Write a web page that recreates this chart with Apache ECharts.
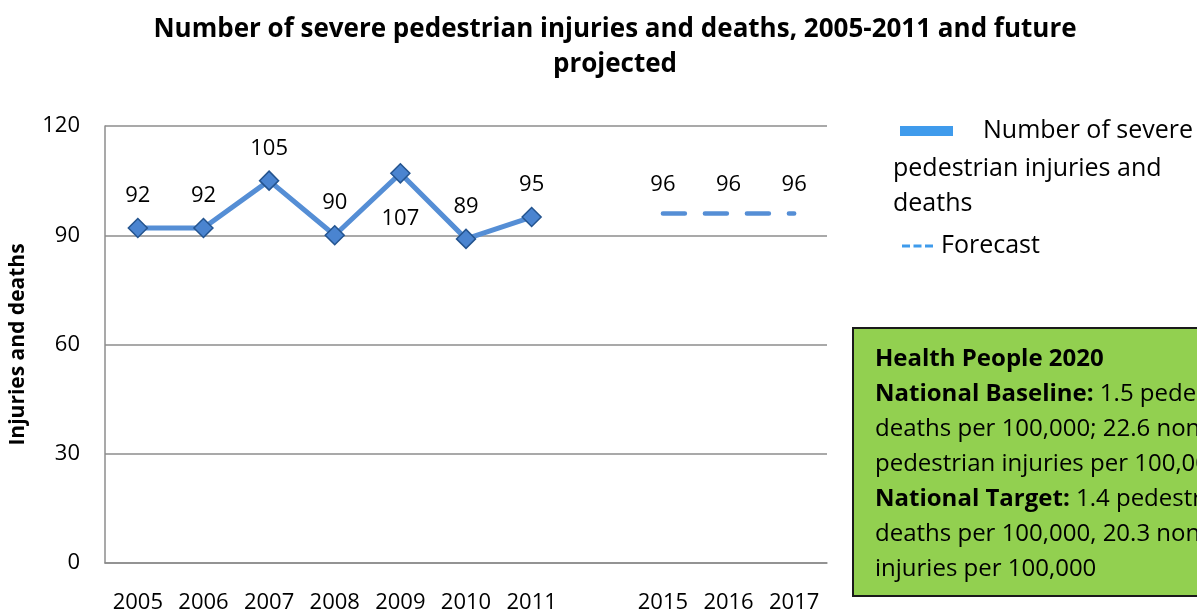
<!DOCTYPE html>
<html>
<head>
<meta charset="utf-8">
<script src="https://cdn.jsdelivr.net/npm/echarts@6/dist/echarts.min.js"></script>
<style>
html,body{margin:0;padding:0;background:#fff;}
#chart{width:1197px;height:614px;}
</style>
</head>
<body>
<div id="chart"></div>
<script>
const categories = ['2005','2006','2007','2008','2009','2010','2011','','2015','2016','2017'];
const injuries = [92, 92, 105, 90, 107, 89, 95, null, null, null, null];
const forecast = [null, null, null, null, null, null, null, null, 96, 96, 96];
const yTicks = { min: 0, max: 120, interval: 30 };
const seriesName = 'Number of severe pedestrian injuries and deaths';
const forecastName = 'Forecast';
const titleText = 'Number of severe pedestrian injuries and deaths, 2005-2011 and future\nprojected';
const yAxisName = 'Injuries and deaths';
const boxLines = [
  ['Health People 2020', ''],
  ['National Baseline:', ' 1.5 pedestrian'],
  ['', 'deaths per 100,000; 22.6 nonfatal'],
  ['', 'pedestrian injuries per 100,000'],
  ['National Target:', ' 1.4 pedestrian'],
  ['', 'deaths per 100,000, 20.3 nonfatal'],
  ['', 'injuries per 100,000']
];

const FONT = 'Open Sans';
const chart = echarts.init(document.getElementById('chart'), null, {renderer: 'canvas'});

const boxText = boxLines.map(([b, n]) => (b ? '{b|' + b + '}' : '') + (n ? '{n|' + n + '}' : '')).join('\n');

const option = {
  backgroundColor: '#fff',
  animation: false,
  textStyle: { fontFamily: FONT },
  title: {
    text: titleText,
    left: 615,
    top: 12,
    padding: 0,
    textAlign: 'center',
    textStyle: { fontFamily: FONT, fontSize: 26, fontWeight: 'bold', color: '#000', lineHeight: 35 }
  },
  legend: [
    {
      data: [seriesName],
      left: 900, top: 117, padding: 0,
      itemWidth: 53, itemHeight: 10,
      icon: 'rect',
      itemStyle: { color: '#3F9BEC', borderWidth: 0 },
      lineStyle: { width: 0 },
      formatter: () => 'Number of severe',
      textStyle: { fontFamily: FONT, fontSize: 25, color: '#000', lineHeight: 28, padding: [0, 0, 0, 25] },
      selectedMode: false
    },
    {
      data: [forecastName],
      left: 902, top: 232, padding: 0,
      itemWidth: 31, itemHeight: 3,
      icon: 'path://M0,0h8v3h-8z M11.5,0h8v3h-8z M23,0h8v3h-8z',
      itemStyle: { color: '#3F9BEC', borderWidth: 0 },
      lineStyle: { width: 0 },
      textStyle: { fontFamily: FONT, fontSize: 25, color: '#000', lineHeight: 28, padding: [0, 0, 0, 3] },
      selectedMode: false
    }
  ],
  grid: { left: 105, right: 370, top: 126, bottom: 46, containLabel: false },
  xAxis: {
    type: 'category',
    data: categories,
    boundaryGap: true,
    axisLine: { show: true, lineStyle: { color: '#8C8C8C', width: 1.5 } },
    axisTick: { show: false },
    axisLabel: { fontFamily: FONT, fontSize: 22, color: '#000', margin: 29, interval: 0 }
  },
  yAxis: {
    type: 'value',
    min: yTicks.min, max: yTicks.max, interval: yTicks.interval,
    name: yAxisName,
    nameLocation: 'middle',
    nameGap: 76,
    nameRotate: 90,
    nameTextStyle: { fontFamily: FONT, fontSize: 21, fontWeight: 'bold', color: '#000' },
    axisLine: { show: true, lineStyle: { color: '#8C8C8C', width: 1.5 } },
    axisTick: { show: false },
    axisLabel: { fontFamily: FONT, fontSize: 22, color: '#000', margin: 25 },
    splitLine: { show: true, lineStyle: { color: '#8C8C8C', width: 1.5 } }
  },
  series: [
    {
      name: seriesName,
      type: 'line',
      data: injuries.map((v, i) => v === 107 ? { value: v, label: { position: 'bottom', distance: 24 } } : v),
      symbol: 'diamond',
      symbolSize: 19,
      connectNulls: false,
      lineStyle: { color: '#558ED5', width: 5 },
      itemStyle: { color: '#4A84D0', borderColor: '#24548F', borderWidth: 1.5 },
      label: { show: true, position: 'top', distance: 11, fontFamily: FONT, fontSize: 22, color: '#000' },
      z: 3
    },
    {
      name: forecastName,
      type: 'line',
      data: forecast,
      symbol: 'circle',
      symbolSize: 1,
      itemStyle: { color: 'rgba(0,0,0,0)' },
      lineStyle: { color: '#558ED5', width: 4.5, type: [22, 20], cap: 'round' },
      label: { show: true, position: 'top', distance: 17, fontFamily: FONT, fontSize: 22, color: '#000' },
      z: 2
    }
  ],
  graphic: [
    {
      type: 'text',
      left: 893, top: 151,
      style: { text: 'pedestrian injuries and\ndeaths', fontFamily: FONT, fontSize: 25, lineHeight: 35, fill: '#000' }
    },
    {
      type: 'rect',
      shape: { x: 853, y: 328, width: 420, height: 268 },
      style: { fill: '#92D050', stroke: '#1A1A1A', lineWidth: 2 }
    },
    {
      type: 'text',
      x: 875, y: 342,
      style: {
        text: boxText,
        fontFamily: FONT, fontSize: 24, lineHeight: 35, fill: '#000',
        rich: {
          b: { fontFamily: FONT, fontSize: 24, fontWeight: 'bold', lineHeight: 35, fill: '#000' },
          n: { fontFamily: FONT, fontSize: 24, lineHeight: 35, fill: '#000' }
        }
      }
    }
  ]
};
chart.setOption(option);
</script>
</body>
</html>
